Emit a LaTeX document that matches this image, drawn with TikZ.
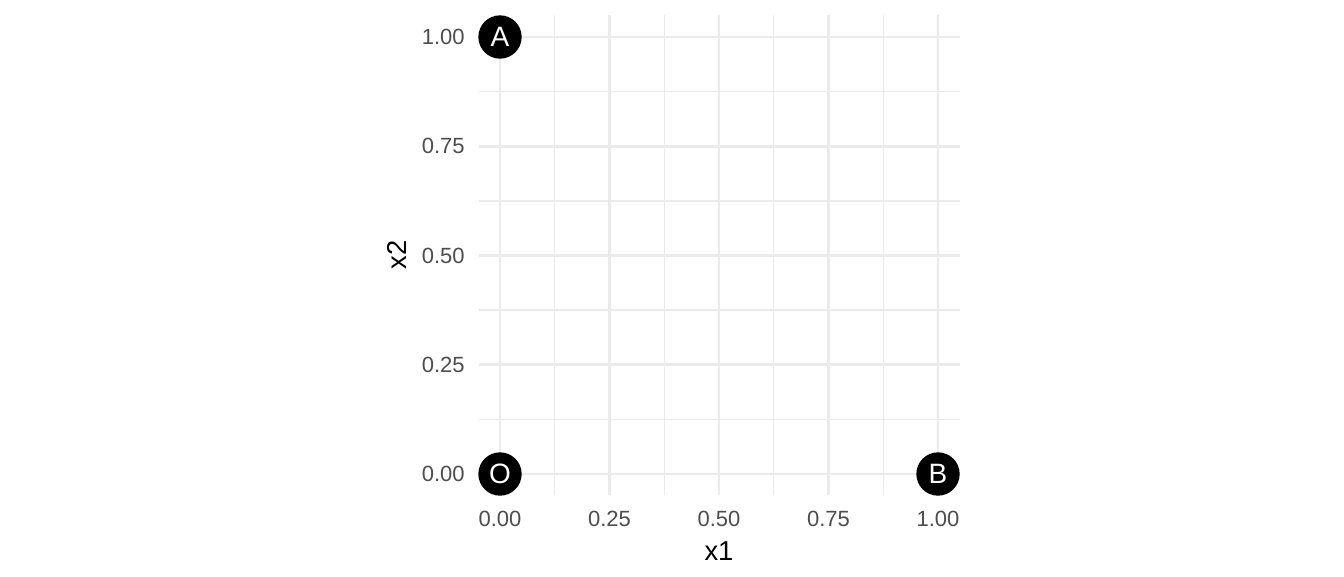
\documentclass[tikz,border=0pt]{standalone}
\usepackage{fontspec}
\setmainfont{Liberation Sans}
\definecolor{gridc}{HTML}{EBEBEB}
\definecolor{tickc}{HTML}{4D4D4D}
\begin{document}
\begin{tikzpicture}[x=0.75pt,y=-0.75pt,
  majorline/.style={draw=gridc,line width=2.1pt},
  minorline/.style={draw=gridc,line width=1.05pt},
  ticklab/.style={text=tickc,font=\fontsize{16.5}{18}\selectfont,inner sep=0pt},
  axtitle/.style={text=black,font=\fontsize{20.5}{22}\selectfont,inner sep=0pt},
  pt/.style={circle,fill=black,text=white,minimum size=32.5pt,inner sep=0pt,font=\fontsize{21}{22}\selectfont}]
\useasboundingbox (0,0) rectangle (1344,576);
\begin{scope}[shift={(500,474)},x=328.5pt,y=327.75pt]
  % minor grid
  \foreach \v in {0.125,0.375,0.625,0.875}{
    \draw[minorline] (\v,-0.048) -- (\v,1.05);
    \draw[minorline] (-0.048,\v) -- (1.05,\v);
  }
  % major grid
  \foreach \v in {0,0.25,0.5,0.75,1}{
    \draw[majorline] (\v,-0.048) -- (\v,1.05);
    \draw[majorline] (-0.048,\v) -- (1.05,\v);
  }
  % tick labels
  \foreach \v/\t in {0/0.00,0.25/0.25,0.5/0.50,0.75/0.75,1/1.00}{
    \node[ticklab,anchor=east] (ylab\t) at (-0.08,\v) {\t};
    \node[ticklab,anchor=north] (xlab\t) at (\v,-0.085) {\t};
  }
  % points
  \node[pt] (O) at (0,0) {O};
  \node[pt] (A) at (0,1) {A};
  \node[pt] (B) at (1,0) {B};
\end{scope}
\node[axtitle] (xt) at (719,551) {x1};
\node[axtitle,rotate=90] (yt) at (397,255) {x2};
\end{tikzpicture}
\end{document}
